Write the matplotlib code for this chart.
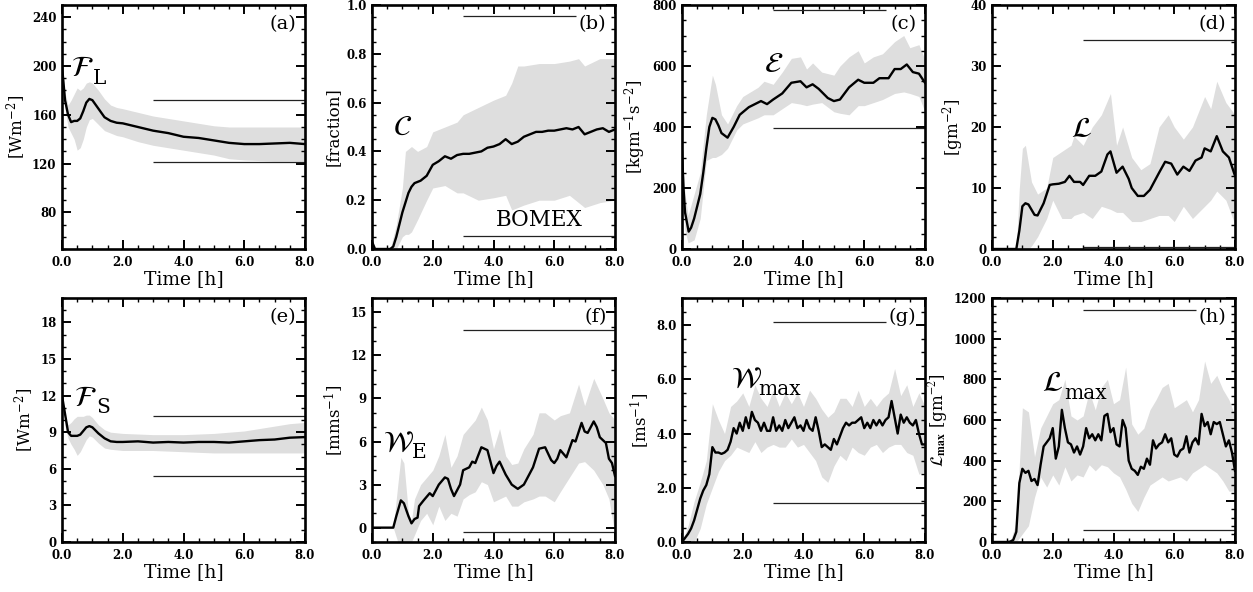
import matplotlib
matplotlib.use('Agg')
import matplotlib.pyplot as plt
import numpy as np
from matplotlib.ticker import MultipleLocator, AutoMinorLocator, FormatStrFormatter

plt.rcParams['font.family'] = 'DejaVu Serif'
plt.rcParams['mathtext.fontset'] = 'dejavuserif'

# ---------------- (a) latent heat flux
t_a = [0, 0.1, 0.2, 0.3, 0.4, 0.5, 0.6, 0.7, 0.8, 0.9, 1.0, 1.2, 1.4, 1.6, 1.8, 2.0,
       2.5, 3.0, 3.5, 4.0, 4.5, 5.0, 5.5, 6.0, 6.5, 7.0, 7.5, 8.0]
m_a = [200, 172, 160, 154, 155, 155, 157, 163, 170, 173, 172, 165, 158, 155, 153.5, 153,
       150, 147, 145, 142, 141, 139, 137, 136, 136, 136.5, 137, 136]
hi_a = [200, 178, 168, 172, 177, 182, 180, 182, 186, 187, 186, 180, 173, 168, 166, 165,
        162, 159, 157, 155, 153, 151, 150, 150, 150, 150, 150, 150]
lo_a = [200, 165, 150, 145, 140, 131, 133, 140, 150, 156, 157, 152, 147, 145, 143, 142,
        138, 135, 133, 131, 129, 127, 124, 123, 122.5, 122, 122, 122]
ref_a = [(172, 3.0, 8.0), (121, 3.0, 8.0)]

# ---------------- (b) cloud cover
t_b = [0, 0.1, 0.6, 0.7, 0.8, 0.9, 1.0, 1.1, 1.2, 1.3, 1.4, 1.5, 1.6, 1.8, 2.0, 2.2, 2.4,
       2.6, 2.8, 3.0, 3.2, 3.4, 3.6, 3.8, 4.0, 4.2, 4.4, 4.6, 4.8, 5.0, 5.2, 5.4, 5.6, 5.8,
       6.0, 6.2, 6.4, 6.6, 6.8, 7.0, 7.2, 7.4, 7.6, 7.8, 8.0]
m_b = [0.03, 0, 0, 0.01, 0.05, 0.10, 0.15, 0.19, 0.23, 0.255, 0.27, 0.275, 0.28, 0.30,
       0.345, 0.36, 0.38, 0.37, 0.385, 0.39, 0.39, 0.395, 0.40, 0.415, 0.42, 0.43, 0.45,
       0.43, 0.44, 0.46, 0.47, 0.48, 0.48, 0.485, 0.485, 0.49, 0.495, 0.49, 0.50, 0.47,
       0.48, 0.49, 0.495, 0.48, 0.49]
s_b = [0.6, 0.8, 1.0, 1.1, 1.2, 1.3, 1.5, 1.8, 2.0, 2.4, 2.8, 3.0, 3.5, 4.0, 4.4, 4.6,
       4.8, 5.0, 5.5, 6.0, 6.5, 6.8, 7.0, 7.5, 8.0]
hi_b = [0.0, 0.10, 0.25, 0.40, 0.41, 0.42, 0.40, 0.42, 0.48, 0.50, 0.52, 0.55, 0.58, 0.61,
        0.63, 0.68, 0.75, 0.75, 0.76, 0.76, 0.77, 0.78, 0.75, 0.78, 0.78]
lo_b = [0.0, 0.0, 0.05, 0.06, 0.06, 0.07, 0.12, 0.20, 0.25, 0.26, 0.23, 0.23, 0.20, 0.21,
        0.22, 0.16, 0.17, 0.18, 0.20, 0.20, 0.22, 0.19, 0.17, 0.19, 0.20]
ref_b = [(0.955, 3.0, 6.7), (0.055, 3.0, 8.0)]

# ---------------- (c) kinetic energy
t_c = [0, 0.05, 0.1, 0.22, 0.3, 0.4, 0.5, 0.6, 0.7, 0.8, 0.9, 1.0, 1.1, 1.2, 1.3, 1.5,
       1.7, 1.9, 2.2, 2.5, 2.6, 2.8, 3.0, 3.3, 3.6, 3.9, 4.1, 4.3, 4.5, 4.8, 5.0, 5.2,
       5.5, 5.8, 6.0, 6.3, 6.5, 6.8, 7.0, 7.2, 7.4, 7.6, 7.8, 8.0]
m_c = [320, 200, 120, 57, 70, 100, 140, 180, 250, 330, 400, 430, 425, 405, 380, 365, 400,
       440, 465, 480, 485, 475, 490, 510, 545, 550, 530, 540, 525, 495, 485, 490, 530,
       555, 545, 545, 560, 560, 590, 590, 605, 580, 575, 545]
s_c = [0, 0.1, 0.2, 0.4, 0.6, 0.8, 1.0, 1.1, 1.3, 1.5, 1.8, 2.0, 2.5, 2.7, 3.0, 3.3, 3.6,
       3.9, 4.1, 4.3, 4.6, 5.0, 5.2, 5.5, 5.8, 6.0, 6.3, 6.6, 7.0, 7.3, 7.5, 7.8, 8.0]
hi_c = [330, 180, 110, 180, 250, 440, 570, 540, 440, 410, 470, 500, 530, 550, 540, 580,
        625, 630, 590, 610, 580, 570, 600, 630, 650, 610, 630, 640, 680, 700, 660, 670, 620]
lo_c = [330, 60, 20, 30, 100, 290, 300, 300, 310, 330, 390, 410, 430, 440, 440, 460, 480,
        475, 470, 475, 480, 450, 445, 440, 470, 470, 480, 490, 510, 515, 510, 500, 450]
ref_c = [(785, 3.0, 6.7), (398, 3.0, 8.0)]

# ---------------- (d) liquid water path
t_d = [0, 0.8, 0.9, 1.0, 1.1, 1.2, 1.4, 1.5, 1.7, 1.9, 2.0, 2.2, 2.4, 2.55, 2.7, 2.9,
       3.0, 3.2, 3.4, 3.6, 3.8, 3.9, 4.1, 4.3, 4.5, 4.6, 4.8, 5.0, 5.2, 5.5, 5.7, 5.9,
       6.1, 6.3, 6.5, 6.7, 6.9, 7.0, 7.2, 7.4, 7.6, 7.8, 8.0]
m_d = [0, 0, 3, 7, 7.5, 7.3, 5.6, 5.5, 7.5, 10.5, 10.6, 10.7, 11, 12, 11, 11, 10.5, 12,
       12, 12.7, 15.5, 16, 12.5, 13.5, 11.5, 10, 8.7, 8.7, 9.7, 12.5, 14.3, 14, 12.2,
       13.5, 12.8, 14.5, 15, 16.5, 16, 18.5, 16, 15, 12]
s_d = [0.8, 0.9, 1.0, 1.1, 1.2, 1.3, 1.5, 1.8, 2.0, 2.3, 2.6, 2.7, 3.0, 3.3, 3.6, 3.9,
       4.1, 4.3, 4.6, 4.9, 5.2, 5.5, 5.8, 6.0, 6.3, 6.6, 7.0, 7.2, 7.4, 7.7, 8.0]
hi_d = [0, 10, 16.5, 17, 14, 11, 9, 10, 15, 16, 17, 18.5, 17, 20, 22, 25.5, 17, 20, 15,
        13, 14, 20, 22, 20, 18, 20, 25, 23, 27.5, 24, 22]
lo_d = [0, 0, 0, 0, 0, 0.5, 2, 5, 8, 5, 5, 5.5, 6, 5, 7, 6.5, 6, 6, 4.5, 4.5, 5, 5.5,
        5.5, 4.5, 7, 5, 7, 8, 9.5, 8, 4]
ref_d = [(34.2, 3.0, 8.0), (0.4, 3.0, 8.0)]

# ---------------- (e) sensible heat flux
t_e = t_a
m_e = [12, 10.5, 9.0, 8.7, 8.7, 8.7, 8.8, 9.1, 9.4, 9.5, 9.4, 8.9, 8.5, 8.25, 8.2, 8.2,
       8.25, 8.15, 8.2, 8.15, 8.2, 8.2, 8.15, 8.25, 8.35, 8.4, 8.55, 8.6]
hi_e = [12, 10.3, 9.6, 9.8, 10.1, 10.3, 10.3, 10.3, 10.4, 10.4, 10.2, 9.6, 9.2, 9.0,
        8.95, 8.9, 8.85, 8.8, 8.8, 8.8, 8.85, 8.9, 9.0, 9.1, 9.3, 9.5, 9.7, 9.8]
lo_e = [12, 9.5, 8.5, 8.0, 7.6, 7.1, 7.4, 7.9, 8.4, 8.7, 8.6, 8.1, 7.7, 7.6, 7.55, 7.5,
        7.5, 7.5, 7.45, 7.4, 7.35, 7.3, 7.3, 7.3, 7.3, 7.3, 7.3, 7.3]
ref_e = [(10.3, 3.0, 8.0), (5.4, 3.0, 8.0)]

# ---------------- (f) entrainment velocity
t_f = [0, 0.7, 0.8, 0.95, 1.05, 1.2, 1.3, 1.4, 1.5, 1.55, 1.7, 1.9, 2.0, 2.2, 2.4, 2.5,
       2.6, 2.7, 2.9, 3.0, 3.2, 3.3, 3.4, 3.6, 3.8, 4.0, 4.1, 4.2, 4.4, 4.6, 4.8, 5.0,
       5.3, 5.5, 5.7, 5.9, 6.0, 6.1, 6.2, 6.4, 6.6, 6.7, 6.9, 7.0, 7.1, 7.3, 7.4, 7.5,
       7.7, 7.8, 7.9, 8.0]
m_f = [0, 0, 0.8, 1.9, 1.7, 0.8, 0.3, 0.6, 0.7, 1.5, 1.9, 2.4, 2.2, 3.0, 3.5, 3.4, 2.7,
       2.2, 3.0, 4.0, 4.2, 4.6, 4.5, 5.6, 5.4, 3.8, 4.3, 4.6, 3.7, 3.0, 2.7, 3.0, 4.2,
       5.5, 5.6, 4.7, 4.5, 4.8, 5.4, 4.9, 6.1, 6.0, 7.3, 6.7, 6.6, 7.4, 7.0, 6.3, 5.9,
       4.8, 4.5, 3.6]
s_f = [0.7, 0.85, 0.95, 1.05, 1.2, 1.3, 1.4, 1.6, 1.8, 2.0, 2.2, 2.4, 2.6, 2.8, 3.0,
       3.2, 3.4, 3.6, 3.8, 4.0, 4.2, 4.4, 4.6, 4.8, 5.0, 5.3, 5.5, 5.7, 6.0, 6.2, 6.5,
       6.8, 7.0, 7.3, 7.6, 7.8, 8.0]
hi_f = [0, 3, 4.9, 4.5, 1.0, 0.5, 2.0, 3.0, 3.5, 4.0, 5.0, 6.5, 4.2, 5.0, 6.5, 7.0, 7.5,
        8.4, 7.5, 5.5, 6.9, 5.0, 4.4, 4.5, 5.5, 6.5, 8.0, 8.0, 7.5, 7.8, 8.0, 10.0, 8.5,
        10.4, 9.0, 8.0, 7.5]
lo_f = [0, -1, -1, -1, -1, -1, -0.5, 0.5, 1.0, 0.2, 1.5, 0.5, 1.0, 0.8, 2.0, 2.3, 2.5,
        3.2, 3.0, 1.8, 2.0, 2.2, 1.5, 1.5, 1.8, 2.0, 2.2, 2.2, 1.8, 2.5, 3.5, 4.5, 4.6,
        4.0, 3.0, 2.0, -0.5]
ref_f = [(13.8, 3.0, 8.0), (-0.3, 3.0, 8.0)]

# ---------------- (g) max vertical velocity (every 0.1 h, band every 0.2 h)
t_g = np.linspace(0, 8, 81)
m_g = [0.0, 0.15, 0.3, 0.5, 0.8, 1.2, 1.6, 1.9, 2.1, 2.5, 3.5, 3.3, 3.3, 3.25, 3.3, 3.4,
       3.7, 4.2, 4.0, 4.4, 4.1, 4.6, 4.2, 4.8, 4.5, 4.4, 4.1, 4.4, 4.1, 4.1, 4.6, 4.1,
       4.3, 4.1, 4.5, 4.2, 4.4, 4.6, 4.2, 4.3, 4.1, 4.5, 4.2, 4.1, 4.6, 4.1, 3.5, 3.6,
       3.5, 3.4, 3.8, 3.6, 3.9, 4.2, 4.4, 4.3, 4.4, 4.4, 4.5, 4.6, 4.2, 4.4, 4.2, 4.5,
       4.3, 4.5, 4.3, 4.5, 4.6, 5.2, 4.6, 4.0, 4.7, 4.4, 4.6, 4.4, 4.3, 4.5, 4.0, 3.6, 3.6]
s_g = np.linspace(0, 8, 41)
hi_g = [0.0, 0.6, 1.5, 2.2, 3.0, 5.1, 4.5, 4.0, 5.0, 5.2, 5.5, 5.0, 5.8, 5.3, 5.0, 5.6,
        5.0, 5.5, 5.1, 5.5, 5.0, 5.6, 5.3, 4.9, 4.6, 4.8, 5.3, 5.3, 5.0, 5.6, 5.0, 5.3,
        5.0, 5.3, 5.5, 6.4, 5.4, 5.8, 5.0, 5.5, 5.0]
lo_g = [0.0, 0.0, 0.0, 0.5, 1.4, 2.0, 2.6, 3.0, 3.2, 3.5, 3.4, 3.3, 3.7, 3.3, 3.5, 3.6,
        3.5, 3.5, 3.8, 3.5, 3.6, 3.3, 3.0, 2.4, 2.2, 2.8, 3.2, 3.0, 3.5, 3.3, 3.2, 3.5,
        3.6, 3.3, 3.5, 3.6, 3.6, 3.3, 3.2, 2.5, 2.6]
ref_g = [(8.1, 3.0, 6.7), (1.45, 3.0, 8.0)]

# ---------------- (h) max liquid water path
t_h = np.linspace(0, 8, 81)
m_h = [0, 0, 0, 0, 0, 0, 2, 10, 50, 290, 360, 340, 350, 300, 310, 280, 380, 470, 490,
       510, 560, 410, 470, 650, 560, 490, 480, 440, 470, 430, 470, 560, 510, 530, 500,
       530, 500, 620, 630, 540, 560, 480, 470, 600, 560, 400, 360, 350, 330, 370, 360,
       410, 380, 500, 460, 480, 490, 530, 490, 510, 430, 420, 450, 460, 520, 440, 490,
       510, 480, 630, 570, 590, 530, 590, 580, 590, 530, 470, 500, 440, 350]
s_h = np.linspace(0, 8, 41)
hi_h = [0, 0, 0, 0, 100, 660, 640, 420, 560, 620, 680, 700, 800, 620, 600, 620, 740, 650,
        760, 800, 680, 700, 860, 580, 530, 560, 650, 700, 760, 780, 660, 680, 700, 640,
        700, 890, 780, 820, 750, 700, 620]
lo_h = [0, 0, 0, 0, 0, 40, 80, 220, 320, 270, 330, 280, 370, 300, 330, 320, 380, 350,
        380, 370, 340, 320, 260, 190, 150, 220, 280, 300, 320, 300, 310, 320, 300, 340,
        360, 380, 360, 340, 300, 250, 250]
ref_h = [(1140, 3.0, 6.7), (60, 3.0, 8.0)]


def draw_panel(ax, t, m, s, lo, hi, refs, ylim, ystep, ynminor, yfmt, ylabel, tag):
    ax.fill_between(s, lo, hi, color='#dedede', lw=0, zorder=1)
    for (yv, x0, x1) in refs:
        ax.hlines(yv, x0, x1, color='#222222', lw=0.9, zorder=2)
    ax.plot(t, m, color='k', lw=1.7, zorder=3)
    ax.set_xlim(0, 8)
    ax.set_ylim(*ylim)
    ax.xaxis.set_major_locator(MultipleLocator(2))
    ax.xaxis.set_minor_locator(AutoMinorLocator(4))
    ax.xaxis.set_major_formatter(FormatStrFormatter('%.1f'))
    ax.yaxis.set_major_locator(MultipleLocator(ystep))
    ax.yaxis.set_minor_locator(AutoMinorLocator(ynminor))
    ax.yaxis.set_major_formatter(FormatStrFormatter(yfmt))
    ax.tick_params(which='both', direction='in', top=True, right=True)
    ax.tick_params(which='major', length=6.5, width=1.4, labelsize=8.5)
    ax.tick_params(which='minor', length=3.2, width=1.0)
    ax.tick_params(axis='x', which='major', pad=5)
    ax.tick_params(axis='y', which='major', pad=4)
    for lab in ax.get_xticklabels() + ax.get_yticklabels():
        lab.set_fontweight('bold')
    for sp in ax.spines.values():
        sp.set_linewidth(1.9)
    ax.set_xlabel('Time [h]', fontsize=13.5, labelpad=1)
    if '\\mathcal' in ylabel:
        ax.set_ylabel(ylabel, fontsize=12, labelpad=3, math_fontfamily='stix')
    else:
        ax.set_ylabel(ylabel, fontsize=12, labelpad=3)
    ax.text(0.965, 0.96, tag, transform=ax.transAxes, ha='right', va='top', fontsize=14)


fig = plt.figure(figsize=(12.53, 5.92), dpi=100)
lefts = [62 / 1253, 372 / 1253, 682 / 1253, 992 / 1253]
w = 243 / 1253
h = 244 / 592
rows = [1 - 249 / 592, 1 - 542 / 592]

# script symbol, its subscript (None if none), subscript shift, anchor time and value
panels = [
    (t_a, m_a, t_a, lo_a, hi_a, ref_a, (50, 250), 40, 4, '%d', '[Wm$^{-2}$]', '(a)',
     r'$\mathcal{F}$', 'L', 16, 0.3, 198),
    (t_b, m_b, s_b, lo_b, hi_b, ref_b, (0, 1), 0.2, 4, '%.1f', '[fraction]', '(b)',
     r'$\mathcal{C}$', None, 0, 0.7, 0.5),
    (t_c, m_c, s_c, lo_c, hi_c, ref_c, (0, 800), 200, 4, '%d', '[kgm$^{-1}$s$^{-2}$]', '(c)',
     r'$\mathcal{E}$', None, 0, 2.7, 605),
    (t_d, m_d, s_d, lo_d, hi_d, ref_d, (0, 40), 10, 5, '%d', '[gm$^{-2}$]', '(d)',
     r'$\mathcal{L}$', None, 0, 2.6, 19.7),
    (t_e, m_e, t_e, lo_e, hi_e, ref_e, (0, 20), 3, 3, '%d', '[Wm$^{-2}$]', '(e)',
     r'$\mathcal{F}$', 'S', 16, 0.4, 11.8),
    (t_f, m_f, s_f, lo_f, hi_f, ref_f, (-1, 16), 3, 3, '%d', '[mms$^{-1}$]', '(f)',
     r'$\mathcal{W}$', 'E', 21, 0.35, 5.9),
    (t_g, m_g, s_g, lo_g, hi_g, ref_g, (0, 9), 2, 4, '%.1f', '[ms$^{-1}$]', '(g)',
     r'$\mathcal{W}$', 'max', 20, 1.6, 6.0),
    (t_h, m_h, s_h, lo_h, hi_h, ref_h, (0, 1200), 200, 5, '%d',
     r'$\mathcal{L}_{\mathbf{max}}$ [gm$^{-2}$]', '(h)',
     r'$\mathcal{L}$', 'max', 16, 1.65, 780),
]

for k, p in enumerate(panels):
    row = k // 4
    col = k % 4
    ax = fig.add_axes([lefts[col], rows[row], w, h])
    draw_panel(ax, *p[:12])
    sym, sub, dx, x0, y0 = p[12], p[13], p[14], p[15], p[16]
    ax.text(x0, y0, sym, fontsize=21, ha='left', va='center',
            math_fontfamily='stix', zorder=4)
    if sub is not None:
        ax.annotate(sub, (x0, y0), xytext=(dx, -7), textcoords='offset points',
                    fontsize=14.5, ha='left', va='center', zorder=4)
    if k == 1:
        ax.text(5.5, 0.12, 'BOMEX', fontsize=15.5, ha='center', va='center')

fig.savefig('out.png', dpi=100)
